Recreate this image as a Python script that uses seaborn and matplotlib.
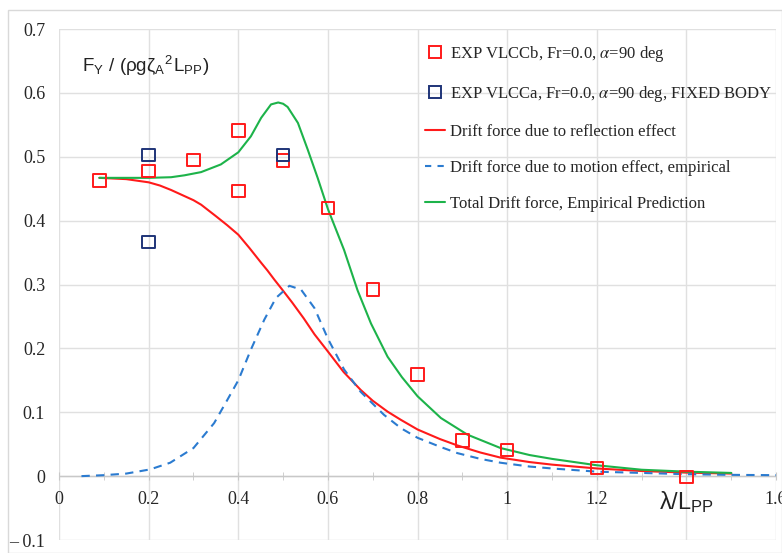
import matplotlib
matplotlib.use("Agg")
import matplotlib.pyplot as plt
import seaborn as sns
import pandas as pd
from matplotlib.patches import Rectangle
from matplotlib.lines import Line2D

# ---- data ----
exp_b_x = [0.09, 0.2, 0.3, 0.4, 0.4, 0.5, 0.6, 0.7, 0.8, 0.9, 1.0, 1.2, 1.4]
exp_b_y = [0.463, 0.478, 0.495, 0.541, 0.446, 0.494, 0.420, 0.292, 0.159, 0.056, 0.041, 0.0125, -0.001]

exp_a_x = [0.2, 0.2, 0.5]
exp_a_y = [0.503, 0.367, 0.503]

refl_x = [0.09, 0.12, 0.15, 0.18, 0.2, 0.225, 0.25, 0.275, 0.3, 0.317, 0.35, 0.375, 0.4, 0.425,
          0.451, 0.465, 0.48, 0.498, 0.52, 0.546, 0.57, 0.6, 0.635, 0.673, 0.7, 0.733, 0.763,
          0.8, 0.85, 0.889, 0.94, 0.985, 1.05, 1.1, 1.2, 1.3, 1.4, 1.5]
refl_y = [0.467, 0.466, 0.465, 0.462, 0.460, 0.455, 0.448, 0.440, 0.432, 0.425, 0.407, 0.393,
          0.378, 0.357, 0.334, 0.322, 0.308, 0.292, 0.272, 0.247, 0.222, 0.195, 0.163, 0.135,
          0.118, 0.101, 0.088, 0.073, 0.058, 0.048, 0.037, 0.029, 0.022, 0.018, 0.012, 0.008,
          0.0055, 0.004]

mot_x = [0.05, 0.1, 0.15, 0.203, 0.248, 0.3, 0.346, 0.376, 0.4, 0.428, 0.458, 0.484, 0.514, 0.54,
         0.57, 0.6, 0.636, 0.673, 0.725, 0.763, 0.8, 0.85, 0.889, 0.94, 0.985, 1.05, 1.1, 1.2,
         1.3, 1.4, 1.5, 1.6]
mot_y = [0.0, 0.0015, 0.004, 0.0105, 0.021, 0.044, 0.083, 0.120, 0.150, 0.198, 0.245, 0.279,
         0.298, 0.292, 0.263, 0.215, 0.167, 0.132, 0.096, 0.075, 0.060, 0.046, 0.036, 0.027,
         0.021, 0.015, 0.012, 0.007, 0.005, 0.003, 0.002, 0.0015]

tot_x = [0.09, 0.15, 0.2, 0.25, 0.28, 0.317, 0.361, 0.4, 0.428, 0.451, 0.473, 0.489, 0.5, 0.51,
         0.533, 0.555, 0.577, 0.6, 0.636, 0.666, 0.696, 0.733, 0.765, 0.8, 0.852, 0.911, 0.985,
         1.05, 1.1, 1.2, 1.3, 1.4, 1.5]
tot_y = [0.467, 0.467, 0.467, 0.468, 0.471, 0.476, 0.488, 0.507, 0.532, 0.561, 0.582, 0.585,
         0.583, 0.578, 0.553, 0.511, 0.467, 0.418, 0.354, 0.291, 0.239, 0.187, 0.155, 0.125,
         0.091, 0.065, 0.044, 0.033, 0.027, 0.017, 0.010, 0.007, 0.005]

x_ticks = [0, 0.2, 0.4, 0.6, 0.8, 1.0, 1.2, 1.4, 1.6]
x_tick_labels = ["0", "0.2", "0.4", "0.6", "0.8", "1", "1.2", "", "1.6"]
y_ticks = [-0.1, 0.0, 0.1, 0.2, 0.3, 0.4, 0.5, 0.6, 0.7]
y_tick_labels = ["\u2013 0.1", "0", "0.1", "0.2", "0.3", "0.4", "0.5", "0.6", "0.7"]

lab_b = r"EXP VLCCb, Fr=0.0, $\alpha$=90 deg"
lab_a = r"EXP VLCCa, Fr=0.0, $\alpha$=90 deg, FIXED BODY"
lab_r = "Drift force due to reflection effect"
lab_m = "Drift force due to motion effect, empirical"
lab_t = "Total Drift force, Empirical Prediction"

RED = "#ff1a1a"
NAVY = "#1f3478"
BLUE = "#2b7bd0"
GREEN = "#1db34a"

sns.set_style("white")
plt.rcParams["font.family"] = ["Liberation Serif", "DejaVu Serif"]
plt.rcParams["mathtext.fontset"] = "stix"

fig = plt.figure(figsize=(7.82, 5.53), dpi=100)
ax = fig.add_axes([0.0755, 0.0235, 0.917, 0.924])

# figure frame
fig.patches.append(Rectangle((8 / 782, 0), 1 - 8 / 782, 1 - 10 / 553, transform=fig.transFigure,
                             fill=False, edgecolor="#d9d9d9", linewidth=1.0))

df_r = pd.DataFrame({"x": refl_x, "y": refl_y})
df_m = pd.DataFrame({"x": mot_x, "y": mot_y})
df_t = pd.DataFrame({"x": tot_x, "y": tot_y})
df_b = pd.DataFrame({"x": exp_b_x, "y": exp_b_y})
df_a = pd.DataFrame({"x": exp_a_x, "y": exp_a_y})

sns.lineplot(data=df_r, x="x", y="y", ax=ax, color=RED, linewidth=1.5, sort=False, zorder=3)
sns.lineplot(data=df_m, x="x", y="y", ax=ax, color=BLUE, linewidth=1.5, sort=False, zorder=3,
             linestyle=(0, (4, 3)))
sns.lineplot(data=df_t, x="x", y="y", ax=ax, color=GREEN, linewidth=1.5, sort=False, zorder=3)
sns.scatterplot(data=df_b, x="x", y="y", ax=ax, marker="s", s=80, facecolors="none",
                edgecolor=RED, linewidth=1.4, zorder=4)
sns.scatterplot(data=df_a, x="x", y="y", ax=ax, marker="s", s=80, facecolors="none",
                edgecolor=NAVY, linewidth=1.4, zorder=5)

ax.set_xlim(0, 1.6)
ax.set_ylim(-0.1, 0.7)
ax.set_xlabel("")
ax.set_ylabel("")

# grid
for xv in x_ticks:
    ax.axvline(xv, color="#e0e0e0", linewidth=1.0, zorder=0)
for yv in y_ticks:
    ax.axhline(yv, color="#e0e0e0", linewidth=1.0, zorder=0)
ax.axhline(0, color="#c8c8c8", linewidth=1.0, zorder=1)

for s in ["top", "right", "left", "bottom"]:
    ax.spines[s].set_visible(False)

ax.spines["bottom"].set_position(("data", 0))
ax.set_xticks(x_ticks)
ax.set_xticklabels(x_tick_labels, fontsize=13)
ax.set_xticks([0.1, 0.3, 0.5, 0.7, 0.9, 1.1, 1.3, 1.5], minor=True)
ax.tick_params(axis="x", which="both", direction="inout", length=6, color="#c8c8c8", pad=8,
               bottom=True)
ax.set_yticks(y_ticks)
ax.set_yticklabels(y_tick_labels, fontsize=13)
ax.tick_params(axis="y", length=0, pad=10)

ax.text(0.052, 0.643, r"F$_\mathregular{Y}$ / (ρgζ$_\mathregular{A}$$^\mathregular{2}$L$_\mathregular{PP}$)",
        fontsize=13.5, family=["Liberation Sans", "DejaVu Sans"], va="center", ha="left",
        color="#222222")
ax.text(1.40, -0.041, r"λ/L$_\mathregular{PP}$", fontsize=17, family=["Liberation Sans", "DejaVu Sans"],
        va="center", ha="center", color="#222222")

handles = [
    Line2D([], [], linestyle="none", marker="s", markersize=8, markerfacecolor="none",
           markeredgecolor=RED, markeredgewidth=1.4),
    Line2D([], [], linestyle="none", marker="s", markersize=8, markerfacecolor="none",
           markeredgecolor=NAVY, markeredgewidth=1.4),
    Line2D([], [], color=RED, linewidth=1.5),
    Line2D([], [], color=BLUE, linewidth=1.5, linestyle=(0, (3, 3))),
    Line2D([], [], color=GREEN, linewidth=1.5),
]
labels = [lab_b, lab_a, lab_r, lab_m, lab_t]
leg = ax.legend(handles, labels, loc="upper left", bbox_to_anchor=(0.49, 1.0), frameon=False,
                fontsize=12, handlelength=1.2, handletextpad=0.3, labelspacing=1.2)

fig.savefig("out.png", dpi=100)
